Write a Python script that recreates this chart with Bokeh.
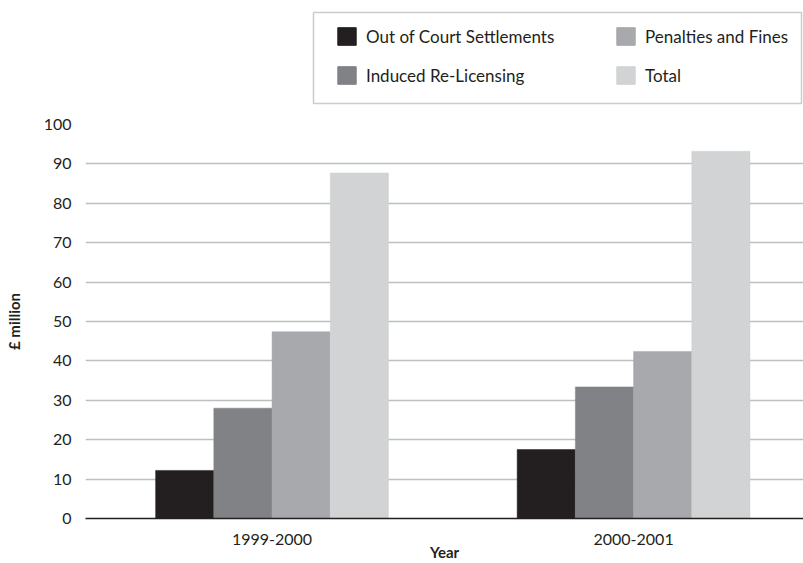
from bokeh.plotting import figure
from bokeh.layouts import column
from bokeh.models import (Range1d, FixedTicker, Legend, LegendItem, BoxAnnotation,
                          ColumnDataSource)
from bokeh.embed import file_html
from bokeh.resources import INLINE

# ---- data ----
categories = ["1999-2000", "2000-2001"]
series_names = ["Out of Court Settlements", "Induced Re-Licensing",
                "Penalties and Fines", "Total"]
out_of_court = [12.2, 17.5]
induced_relicensing = [28.0, 33.4]
penalties_fines = [47.4, 42.4]
total = [87.7, 93.2]
y_ticks = [0, 10, 20, 30, 40, 50, 60, 70, 80, 90, 100]

series_values = [out_of_court, induced_relicensing, penalties_fines, total]
colors = ["#231f20", "#808285", "#a7a9ac", "#d1d3d4"]

FONT = "Lato"
TEXT = "#231f20"
LEG_H = 110

# ---- main chart ----
p = figure(width=803, height=563 - LEG_H, output_backend="svg", toolbar_location=None,
           x_range=Range1d(-0.516, 1.470), y_range=Range1d(0, 100),
           min_border_left=85, min_border_right=0, min_border_top=124 - LEG_H,
           min_border_bottom=45)
p.outline_line_color = None

bar_w = 0.161
for i, (name, vals, col) in enumerate(zip(series_names, series_values, colors)):
    xs = [k + (i - 1.5) * bar_w for k in range(len(categories))]
    src = ColumnDataSource(dict(x=xs, top=vals))
    p.vbar(x="x", top="top", width=bar_w, source=src, fill_color=col,
           line_color=col, line_width=0.5)

p.xaxis.ticker = FixedTicker(ticks=list(range(len(categories))))
p.xaxis.major_label_overrides = {k: c for k, c in enumerate(categories)}
p.xaxis.axis_label = "Year"
p.xaxis.axis_line_color = "#231f20"
p.xaxis.axis_line_width = 1.5
p.xaxis.major_tick_line_color = None
p.xaxis.minor_tick_line_color = None
p.xaxis.major_label_standoff = 9
p.xaxis.axis_label_standoff = -5

p.yaxis.ticker = FixedTicker(ticks=y_ticks)
p.yaxis.axis_label = "£ million"
p.yaxis.axis_line_color = None
p.yaxis.major_tick_line_color = None
p.yaxis.minor_tick_line_color = None
p.yaxis.major_label_standoff = 8
p.yaxis.axis_label_standoff = 18

for ax in (p.xaxis[0], p.yaxis[0]):
    ax.major_label_text_font = FONT
    ax.major_label_text_font_size = "16px"
    ax.major_label_text_color = TEXT
    ax.axis_label_text_font = FONT
    ax.axis_label_text_font_size = "15px"
    ax.axis_label_text_font_style = "bold"
    ax.axis_label_text_color = TEXT

p.xgrid.grid_line_color = None
p.ygrid.grid_line_color = "#bcbec0"
p.ygrid.grid_line_width = 1.5

# ---- legend strip ----
lg = figure(width=803, height=LEG_H, output_backend="svg", toolbar_location=None,
            x_range=Range1d(0, 1), y_range=Range1d(0, 1),
            x_axis_location=None, y_axis_location=None,
            min_border=0)
lg.outline_line_color = None
lg.xgrid.grid_line_color = None
lg.ygrid.grid_line_color = None
# off-range placeholder renderers, used only for the legend swatches
dummies = [lg.vbar(x=[-5], top=[-5], bottom=[-6], width=0.1, fill_color=c, line_color=c)
           for c in colors]

box = BoxAnnotation(left=313, right=801, top=12, bottom=103,
                    left_units="canvas", right_units="canvas",
                    top_units="canvas", bottom_units="canvas",
                    fill_alpha=0, line_color="#555555", line_width=1.5)
lg.add_layout(box)

common = dict(border_line_color=None, background_fill_alpha=0,
              glyph_width=23, glyph_height=22, spacing=17, padding=10,
              label_standoff=8, label_text_font=FONT, label_text_font_size="17px",
              label_text_color=TEXT, margin=0)
leg1 = Legend(items=[LegendItem(label=series_names[0], renderers=[dummies[0]]),
                     LegendItem(label=series_names[1], renderers=[dummies[1]])],
              location=(250, 24), **common)
leg2 = Legend(items=[LegendItem(label=series_names[2], renderers=[dummies[2]]),
                     LegendItem(label=series_names[3], renderers=[dummies[3]])],
              location=(529, 24), **common)
lg.add_layout(leg1, "center")
lg.add_layout(leg2, "center")

layout = column(lg, p, spacing=0)
open("out.html", "w").write(file_html(layout, INLINE))
